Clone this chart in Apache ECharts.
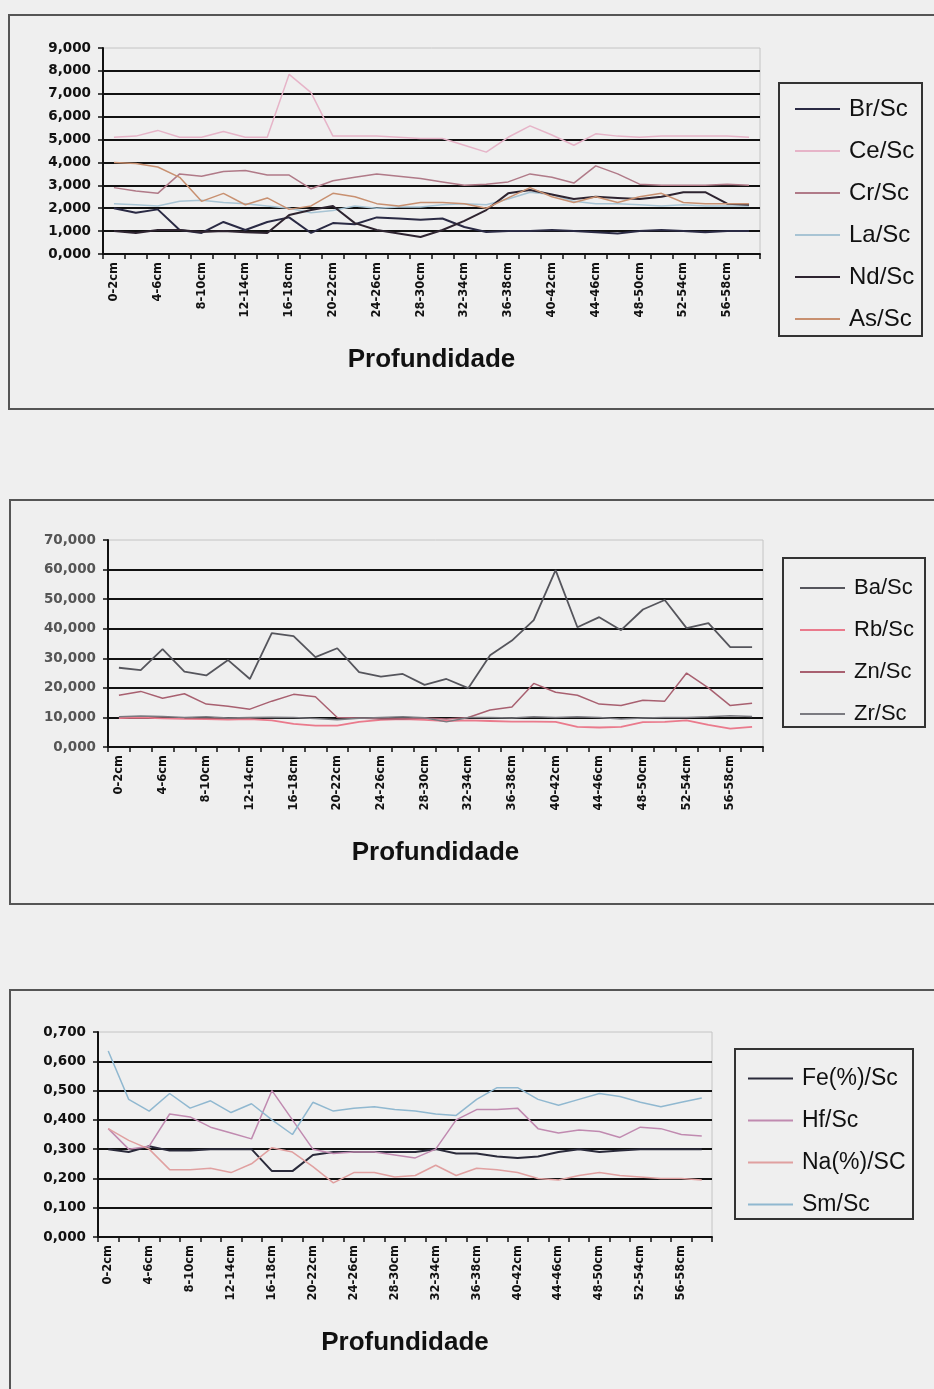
<!DOCTYPE html>
<html><head><meta charset="utf-8">
<script src="https://cdn.jsdelivr.net/npm/echarts@6/dist/echarts.min.js"></script>
<style>html,body{margin:0;padding:0;background:#efefef;}#c{width:934px;height:1389px;}</style>
</head><body><div id="c"></div>
<script>
const categories = ['0-2cm','2-4cm','4-6cm','6-8cm','8-10cm','10-12cm','12-14cm','14-16cm','16-18cm','18-20cm','20-22cm','22-24cm','24-26cm','26-28cm','28-30cm','30-32cm','32-34cm','34-36cm','36-38cm','38-40cm','40-42cm','42-44cm','44-46cm','46-48cm','48-50cm','50-52cm','52-54cm','54-56cm','56-58cm','58-60cm'];
const axisTitle = 'Profundidade';

// Chart 1
const brSc = [2.0,1.8,1.95,1.05,0.92,1.4,1.05,1.4,1.6,0.92,1.35,1.3,1.6,1.55,1.5,1.55,1.18,0.96,1.0,1.0,1.05,1.0,0.95,0.9,1.0,1.05,1.0,0.95,1.0,1.0];
const ceSc = [5.1,5.15,5.4,5.1,5.1,5.35,5.1,5.1,7.85,7.05,5.15,5.15,5.15,5.1,5.05,5.05,4.75,4.45,5.1,5.6,5.2,4.75,5.25,5.15,5.1,5.15,5.15,5.15,5.15,5.1];
const crSc = [2.9,2.75,2.65,3.5,3.4,3.6,3.65,3.45,3.45,2.85,3.2,3.35,3.5,3.4,3.3,3.15,3.0,3.05,3.15,3.5,3.35,3.1,3.85,3.5,3.05,3.0,3.0,3.0,3.05,3.0];
const laSc = [2.2,2.15,2.1,2.3,2.35,2.25,2.2,2.1,2.0,1.8,1.9,2.1,2.0,2.05,2.05,2.15,2.2,2.15,2.4,2.7,2.6,2.3,2.2,2.2,2.15,2.1,2.15,2.1,2.1,2.1];
const ndSc = [1.0,0.92,1.05,1.05,0.96,1.0,0.95,0.92,1.7,1.92,2.1,1.35,1.05,0.9,0.74,1.05,1.45,1.92,2.65,2.8,2.6,2.4,2.5,2.45,2.4,2.5,2.7,2.7,2.2,2.15];
const asSc = [4.0,3.95,3.8,3.35,2.3,2.65,2.15,2.45,1.95,2.1,2.65,2.5,2.2,2.1,2.25,2.25,2.2,2.0,2.45,2.9,2.5,2.25,2.5,2.25,2.5,2.65,2.25,2.2,2.2,2.2];
// Chart 2
const baSc = [26.8,26.0,33.1,25.5,24.2,29.4,23.0,38.5,37.5,30.4,33.4,25.3,23.8,24.7,21.0,23.0,19.9,31.0,36.0,42.9,59.8,40.5,43.9,39.5,46.5,49.7,40.2,41.9,33.8,33.8];
const rbSc = [9.8,9.9,9.7,9.5,9.4,9.3,9.4,9.0,7.8,7.2,7.2,8.5,9.2,9.4,9.2,8.8,9.0,8.8,8.6,8.6,8.5,6.8,6.6,6.8,8.4,8.5,9.0,7.5,6.2,6.8];
const znSc = [17.5,18.8,16.5,18.0,14.5,13.8,12.8,15.5,17.8,17.0,10.0,9.8,9.5,9.5,9.8,9.5,10.0,12.5,13.5,21.5,18.5,17.5,14.5,14.0,15.8,15.5,25.0,20.0,14.0,14.8];
const zrSc = [10.2,10.5,10.3,10.0,10.2,9.8,10.0,10.1,10.0,9.6,9.2,9.7,10.0,10.2,9.9,8.5,10.0,10.0,9.8,10.2,10.0,10.2,10.0,9.5,9.8,10.0,10.0,10.2,10.6,10.3];
// Chart 3
const feSc = [0.30,0.29,0.31,0.295,0.295,0.30,0.30,0.30,0.225,0.225,0.28,0.29,0.29,0.29,0.29,0.29,0.30,0.285,0.285,0.275,0.27,0.275,0.29,0.30,0.29,0.295,0.30,0.30,0.30,0.30];
const hfSc = [0.37,0.30,0.31,0.42,0.41,0.375,0.355,0.335,0.50,0.40,0.30,0.285,0.29,0.29,0.28,0.27,0.30,0.40,0.435,0.435,0.44,0.37,0.355,0.365,0.36,0.34,0.375,0.37,0.35,0.345];
const naSc = [0.37,0.33,0.30,0.23,0.23,0.235,0.22,0.25,0.305,0.29,0.24,0.185,0.22,0.22,0.205,0.21,0.245,0.21,0.235,0.23,0.22,0.20,0.195,0.21,0.22,0.21,0.205,0.20,0.20,0.195];
const smSc = [0.635,0.47,0.43,0.49,0.44,0.465,0.425,0.455,0.40,0.35,0.46,0.43,0.44,0.445,0.435,0.43,0.42,0.415,0.47,0.51,0.51,0.47,0.45,0.47,0.49,0.48,0.46,0.445,0.46,0.475];

const yTicks1 = {min:0, max:9, interval:1};
const yTicks2 = {min:0, max:70, interval:10};
const yTicks3 = {min:0, max:0.7, interval:0.1};

const fmt = v => v.toFixed(3).replace('.', ',');

const grids = [
  {left:103, top:48, width:657, height:206},
  {left:108, top:540, width:655, height:207},
  {left:98, top:1032, width:614, height:205}
];

function xAx(i){
  return {type:'category', gridIndex:i, data:categories, boundaryGap:true,
    axisLine:{lineStyle:{color:'#111', width:2}},
    axisTick:{show:true, interval:0, length:5, lineStyle:{color:'#111', width:1.5}},
    axisLabel:{interval:1, rotate:90, margin:8, color:'#111', fontFamily:'DejaVu Sans', fontWeight:'bold', fontSize:11.5},
    name:axisTitle, nameLocation:'middle', nameGap:93,
    nameTextStyle:{fontFamily:'Liberation Sans', fontWeight:'bold', fontSize:26, color:'#111'}
  };
}
function yAx(i, t, color){
  return {type:'value', gridIndex:i, min:t.min, max:t.max, interval:t.interval,
    axisLine:{show:true, lineStyle:{color:'#111', width:2}},
    axisTick:{show:true, length:5, lineStyle:{color:'#111', width:1.5}},
    axisLabel:{formatter:fmt, margin:12, color:color, fontFamily:'DejaVu Sans', fontWeight:'bold', fontSize:13.5},
    splitLine:{show:true, showMinLine:false, showMaxLine:false, lineStyle:{color:'#111', width:2}}
  };
}
function ser(name, data, i, color, w){
  return {type:'line', name:name, data:data, xAxisIndex:i, yAxisIndex:i, symbol:'none',
    lineStyle:{color:color, width:w||1.5}, itemStyle:{color:color}};
}
function legend(names, left, top, fs, gap){
  return {data:names, orient:'vertical', left:left, top:top, icon:'rect', itemWidth:45, itemHeight:2, itemGap:gap,
    textStyle:{fontFamily:'Liberation Sans', fontSize:fs, lineHeight:fs, color:'#111', padding:[0,0,0,4]}};
}

const chart = echarts.init(document.getElementById('c'), null, {renderer:'canvas'});
chart.setOption({
  backgroundColor:'#efefef',
  animation:false,
  grid: grids.map(g => Object.assign({show:true, borderColor:'#c4c4c4', borderWidth:1, backgroundColor:'transparent'}, g)),
  xAxis:[xAx(0), xAx(1), xAx(2)],
  yAxis:[yAx(0, yTicks1, '#111'), yAx(1, yTicks2, '#555'), yAx(2, yTicks3, '#111')],
  legend:[
    legend(['Br/Sc','Ce/Sc','Cr/Sc','La/Sc','Nd/Sc','As/Sc'], 790, 92, 24, 18),
    legend(['Ba/Sc','Rb/Sc','Zn/Sc','Zr/Sc'], 795, 572, 22, 20),
    legend(['Fe(%)/Sc','Hf/Sc','Na(%)/SC','Sm/Sc'], 743, 1062, 23, 19)
  ],
  graphic:[
    {type:'rect', shape:{x:9, y:15, width:940, height:394}, style:{fill:'none', stroke:'#555', lineWidth:2}},
    {type:'rect', shape:{x:10, y:500, width:940, height:404}, style:{fill:'none', stroke:'#555', lineWidth:2}},
    {type:'rect', shape:{x:10, y:990, width:940, height:420}, style:{fill:'none', stroke:'#555', lineWidth:2}},
    {type:'rect', shape:{x:779, y:83, width:143, height:253}, style:{fill:'none', stroke:'#333', lineWidth:2}},
    {type:'rect', shape:{x:783, y:558, width:142, height:169}, style:{fill:'none', stroke:'#333', lineWidth:2}},
    {type:'rect', shape:{x:735, y:1049, width:178, height:170}, style:{fill:'none', stroke:'#333', lineWidth:2}}
  ],
  series:[
    ser('Br/Sc', brSc, 0, '#2a2a44', 2),
    ser('Ce/Sc', ceSc, 0, '#e6b4c8', 1.5),
    ser('Cr/Sc', crSc, 0, '#b07a88', 1.5),
    ser('La/Sc', laSc, 0, '#a8c4d4', 1.5),
    ser('Nd/Sc', ndSc, 0, '#2e2430', 2),
    ser('As/Sc', asSc, 0, '#c89070', 1.5),
    ser('Ba/Sc', baSc, 1, '#55555c', 1.8),
    ser('Rb/Sc', rbSc, 1, '#ea7a8c', 1.8),
    ser('Zn/Sc', znSc, 1, '#a86070', 1.5),
    ser('Zr/Sc', zrSc, 1, '#7a7a80', 1.5),
    ser('Fe(%)/Sc', feSc, 2, '#2a2a3a', 2),
    ser('Hf/Sc', hfSc, 2, '#c08ab0', 1.5),
    ser('Na(%)/SC', naSc, 2, '#e0a0a0', 1.5),
    ser('Sm/Sc', smSc, 2, '#90b8d0', 1.5)
  ]
});
</script></body></html>
